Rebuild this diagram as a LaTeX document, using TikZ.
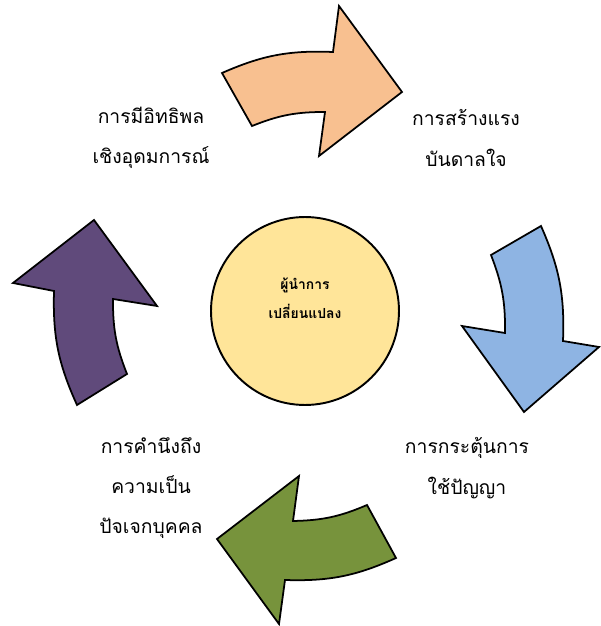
\documentclass[tikz,border=0pt]{standalone}
\usepackage{fontspec}
\newfontfamily\thaifont[Script=Thai]{Loma}
\usepackage{tikz}
\usetikzlibrary{positioning,calc}

\definecolor{peach}{RGB}{248,192,144}
\definecolor{skyblue}{RGB}{142,180,227}
\definecolor{olive}{RGB}{119,147,60}
\definecolor{plum}{RGB}{96,74,123}
\definecolor{cream}{RGB}{255,229,153}

\begin{document}
\begin{tikzpicture}[x=0.02cm, y=0.02cm,
    arrowshape/.style={draw, line width=1pt, line join=miter},
    stagetext/.style={align=center, font=\thaifont\fontsize{11}{23}\selectfont}]
    \useasboundingbox (0,0) rectangle (600,626);

    % Centre
    \node[draw, circle, line width=1.1pt, fill=cream, minimum size=3.76cm] (leader) at (305,315) {};
    \node[align=center, font=\thaifont\bfseries\fontsize{7.9}{16.5}\selectfont] (leadertext) at (305,328) {ผู้นำการ\\เปลี่ยนแปลง};

    % Flèches courbes
    \draw[arrowshape, fill=peach] (222,553) to[bend left=13] (333,574) -- (339,620) -- (402,534)
        -- (319,470) -- (325,514) to[bend right=11] (252,500) -- cycle;
    \draw[arrowshape, fill=skyblue] (541,400) to[bend left=13] (563,285) -- (599,279) -- (524,214)
        -- (462,300) -- (505,293) to[bend right=11] (491,371) -- cycle;
    \draw[arrowshape, fill=olive] (396,68) to[bend left=13] (285,46) -- (279,2) -- (217,87)
        -- (299,150) -- (293,105) to[bend right=11] (367,121) -- cycle;
    \draw[arrowshape, fill=plum] (77,221) to[bend left=13] (54,335) -- (13,343) -- (94,406)
        -- (157,320) -- (113,327) to[bend right=11] (127,252) -- cycle;

    % Textes
    \node[stagetext] (inspire) at (466,488) {การสร้างแรง\\บันดาลใจ};
    \node[stagetext] (stimulate) at (467,158) {การกระตุ้นการ\\ใช้ปัญญา};
    \node[stagetext] (consider) at (151,138) {การคำนึงถึง\\ความเป็น\\ปัจเจกบุคคล};
    \node[stagetext] (influence) at (151,488) {การมีอิทธิพล\\เชิงอุดมการณ์};
\end{tikzpicture}
\end{document}
